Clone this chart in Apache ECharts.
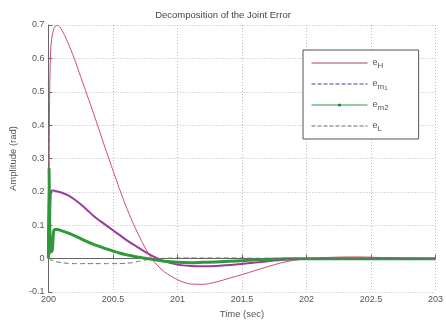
<!DOCTYPE html>
<html>
<head>
<meta charset="utf-8">
<script src="https://cdn.jsdelivr.net/npm/echarts@6/dist/echarts.min.js"></script>
<style>
  html, body { margin: 0; padding: 0; background: #fff; }
  #chart { width: 446px; height: 324px; }
</style>
</head>
<body>
<div id="chart"></div>
<script>
// Sample instants (seconds)
const time = [200, 200.005, 200.01, 200.015, 200.02, 200.03, 200.04, 200.05, 200.07, 200.1,
  200.15, 200.2, 200.25, 200.3, 200.35, 200.4, 200.45, 200.5, 200.55, 200.6,
  200.65, 200.7, 200.75, 200.8, 200.85, 200.9, 201, 201.1, 201.2, 201.3,
  201.4, 201.5, 201.6, 201.7, 201.8, 201.9, 202, 202.2, 202.4, 202.6, 202.8, 203];

// Error components (rad)
const eH = [0.0, 0.3, 0.5, 0.6, 0.64, 0.67, 0.685, 0.695, 0.699, 0.688,
  0.648, 0.6, 0.545, 0.49, 0.435, 0.378, 0.32, 0.265, 0.21, 0.158,
  0.112, 0.07, 0.032, 0.0, -0.022, -0.04, -0.063, -0.076, -0.077, -0.07,
  -0.059, -0.048, -0.036, -0.024, -0.013, -0.005, -0.001, 0.004, 0.005, 0.003, 0.001, 0.0];

const em1 = [0.05, 0.17, 0.06, 0.16, 0.2, 0.204, 0.204, 0.203, 0.201, 0.198,
  0.19, 0.178, 0.163, 0.146, 0.128, 0.113, 0.099, 0.085, 0.071, 0.057,
  0.044, 0.032, 0.02, 0.009, 0.0, -0.008, -0.018, -0.022, -0.023, -0.022,
  -0.019, -0.016, -0.012, -0.008, -0.004, -0.002, 0.0, 0.0, 0.0, 0.0, 0.0, 0.0];

const em2 = [0.0, 0.27, 0.1, 0.05, 0.02, 0.025, 0.08, 0.087, 0.087, 0.084,
  0.077, 0.069, 0.06, 0.051, 0.043, 0.036, 0.029, 0.023, 0.017, 0.012,
  0.008, 0.004, 0.001, -0.002, -0.005, -0.008, -0.011, -0.012, -0.011, -0.01,
  -0.008, -0.006, -0.004, -0.002, -0.001, 0.0, 0.0, 0.0, 0.0, 0.0, 0.0, 0.0];

const eL = [0.53, 0.3, 0.05, 0.0, -0.005, -0.005, -0.006, -0.008, -0.01, -0.012,
  -0.014, -0.015, -0.015, -0.015, -0.015, -0.015, -0.015, -0.015, -0.015, -0.014,
  -0.012, -0.008, -0.004, -0.001, 0.0, 0.001, 0.002, 0.002, 0.002, 0.002,
  0.002, 0.002, 0.001, 0.001, 0.0, 0.0, 0.0, 0.0, 0.0, 0.0, 0.0, 0.0];

const legendLabels = {
  'e_H': 'e{sub|H}',
  'e_m1': 'e{sub|m}{subsub|1}',
  'e_m2': 'e{sub|m2}',
  'e_L': 'e{sub|L}'
};

const xTicks = { min: 200, max: 203, step: 0.5 };
const yTicks = { min: -0.1, max: 0.7, step: 0.1 };

const pair = (ys) => time.map((t, i) => [t, ys[i]]);
const fmt = (v) => String(Math.round(v * 10) / 10);

const font = 'Liberation Sans, Arial, sans-serif';
const hidden = { opacity: 0, borderWidth: 0 };
const chart = echarts.init(document.getElementById('chart'), null, { renderer: 'canvas' });

chart.setOption({
  backgroundColor: '#fff',
  animation: false,
  title: {
    text: 'Decomposition of the Joint Error',
    left: 'center',
    top: 5,
    textStyle: { fontSize: 9.5, fontWeight: 'normal', color: '#444', fontFamily: font }
  },
  grid: { left: 45, right: 5, top: 25, bottom: 32 },
  legend: {
    orient: 'vertical',
    left: 303,
    top: 50,
    width: 113,
    backgroundColor: '#fff',
    borderColor: '#555',
    borderWidth: 1,
    padding: [6, 30, 6, 8],
    itemWidth: 56,
    itemHeight: 4,
    itemGap: 7,
    formatter: (name) => legendLabels[name],
    textStyle: {
      fontSize: 9, color: '#555', fontFamily: font, lineHeight: 14,
      rich: {
        sub: { fontSize: 8, color: '#555', verticalAlign: 'bottom', padding: [6, 0, 0, 0], fontFamily: font },
        subsub: { fontSize: 6, color: '#555', verticalAlign: 'bottom', padding: [9, 0, 0, 0], fontFamily: font }
      }
    },
    data: [
      { name: 'e_H', lineStyle: { color: '#9a4a5a', width: 1 }, itemStyle: hidden },
      { name: 'e_m1', lineStyle: { color: '#3b3f8c', type: 'dashed', width: 1 }, itemStyle: hidden },
      { name: 'e_m2', lineStyle: { color: '#2e9a3c', width: 1 }, itemStyle: { color: '#2e7a3c', borderWidth: 0 } },
      { name: 'e_L', lineStyle: { color: '#6b6b6b', type: 'dashed', width: 1 }, itemStyle: hidden }
    ]
  },
  xAxis: {
    type: 'value',
    min: xTicks.min,
    max: xTicks.max,
    interval: xTicks.step,
    name: 'Time (sec)',
    nameLocation: 'middle',
    nameGap: 16,
    nameTextStyle: { fontSize: 9.5, color: '#555', fontFamily: font },
    axisLine: { lineStyle: { color: '#666', width: 1 } },
    axisTick: { inside: true, length: 4, lineStyle: { color: '#666' } },
    axisLabel: { fontSize: 9, color: '#555', margin: 3, fontFamily: font, formatter: fmt, showMaxLabel: true },
    splitLine: { show: true, lineStyle: { color: '#bbb', type: [1, 2], width: 1 } }
  },
  yAxis: {
    type: 'value',
    min: yTicks.min,
    max: yTicks.max,
    interval: yTicks.step,
    name: 'Amplitude (rad)',
    nameLocation: 'middle',
    nameGap: 28,
    nameTextStyle: { fontSize: 9.5, color: '#555', fontFamily: font },
    axisLine: { show: true, lineStyle: { color: '#666', width: 1 } },
    axisTick: { show: true, inside: true, length: 4, lineStyle: { color: '#666' } },
    axisLabel: { fontSize: 9, color: '#555', margin: 4, fontFamily: font, formatter: fmt },
    splitLine: { show: true, lineStyle: { color: '#bbb', type: [1, 2], width: 1 } }
  },
  series: [
    {
      name: 'e_H', type: 'line', data: pair(eH), smooth: 0.3,
      showSymbol: false, symbol: 'none',
      lineStyle: { color: '#cc4d70', width: 1 }, itemStyle: { color: '#cc4d70' }, z: 3
    },
    {
      name: 'e_m1', type: 'line', data: pair(em1), smooth: 0.3,
      showSymbol: false, symbol: 'none',
      lineStyle: { color: '#9a3c9e', width: 2 }, itemStyle: { color: '#9a3c9e' }, z: 2
    },
    {
      name: 'e_m2', type: 'line', data: pair(em2), smooth: 0.3,
      symbol: 'circle', symbolSize: 2, showSymbol: false,
      lineStyle: { color: '#2e9a3c', width: 3 }, itemStyle: { color: '#2e9a3c' }, z: 4
    },
    {
      name: 'e_L', type: 'line', data: pair(eL), smooth: 0.2,
      showSymbol: false, symbol: 'none',
      lineStyle: { color: '#6b6b6b', width: 1, type: [5, 3] }, itemStyle: { color: '#6b6b6b' }, z: 5
    }
  ]
});
</script>
</body>
</html>
